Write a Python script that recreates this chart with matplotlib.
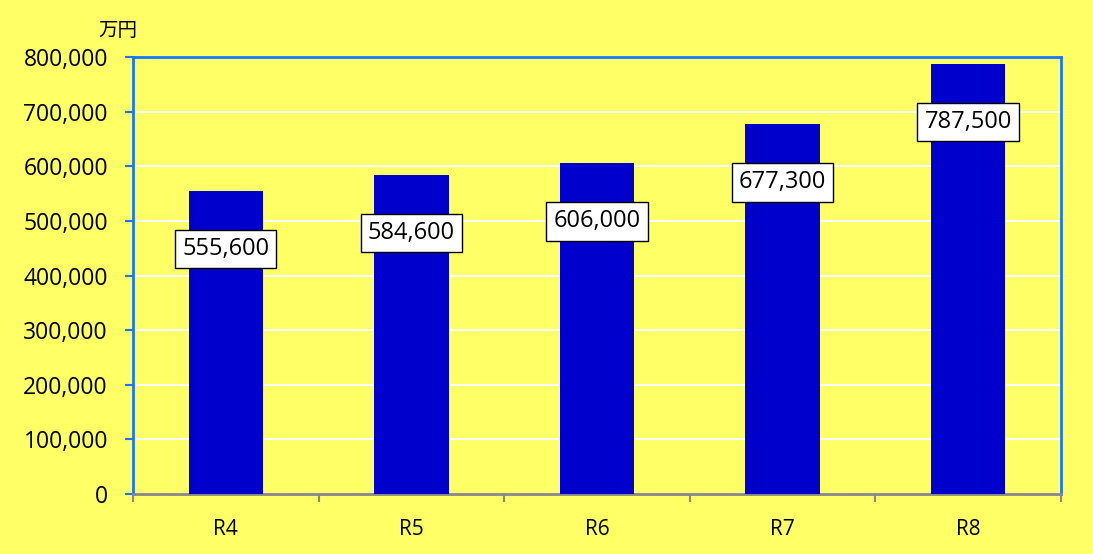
import matplotlib.pyplot as plt
from matplotlib.ticker import FuncFormatter
import numpy as np

plt.rcParams['font.family'] = ['Open Sans', 'Noto Sans CJK JP', 'DejaVu Sans']

# data
years = ['R4', 'R5', 'R6', 'R7', 'R8']
values = [555600, 584600, 606000, 677300, 787500]

bg = '#FFFF66'
frame = '#1A75FF'

fig = plt.figure(figsize=(10.93, 5.54), dpi=100, facecolor=bg)
ax = fig.add_axes([133/1093, 1-494/554, 928/1093, 437/554])
ax.set_facecolor(bg)

x = np.arange(len(years))
ax.bar(x, values, width=0.4, color='#0000CC', zorder=3)

ax.set_xlim(-0.5, len(years) - 0.5)
ax.set_ylim(0, 800000)
ax.set_yticks(np.arange(0, 800001, 100000))
ax.yaxis.set_major_formatter(FuncFormatter(lambda v, p: f'{int(v):,}'))
ax.grid(axis='y', color='white', linewidth=1.5, zorder=1)

ax.set_xticks(x)
ax.set_xticklabels(years)
ax.set_xticks(np.arange(-0.5, len(years)), minor=True)
ax.tick_params(axis='x', which='major', length=0, pad=18, labelsize=15)
ax.tick_params(axis='x', which='minor', length=6, color='#888888', width=1.5)
ax.tick_params(axis='y', length=6, color=frame, width=1.5, labelsize=16.5, pad=12)

for s in ['left', 'top', 'right']:
    ax.spines[s].set_color(frame)
    ax.spines[s].set_linewidth(2)
ax.spines['bottom'].set_color('#888888')
ax.spines['bottom'].set_linewidth(2)

# value labels
for xi, v in zip(x, values):
    ax.text(xi, v - 107000, f'{v:,}', ha='center', va='center', fontsize=17,
            zorder=5,
            bbox=dict(boxstyle='square,pad=0.3', facecolor='white',
                      edgecolor='black', linewidth=1))

fig.text(118/1093, 1-31/554, '万円', fontsize=14, ha='center', va='center',
         family=['Noto Sans CJK JP', 'DejaVu Sans'])

fig.savefig('out.png', dpi=100, facecolor=bg)
